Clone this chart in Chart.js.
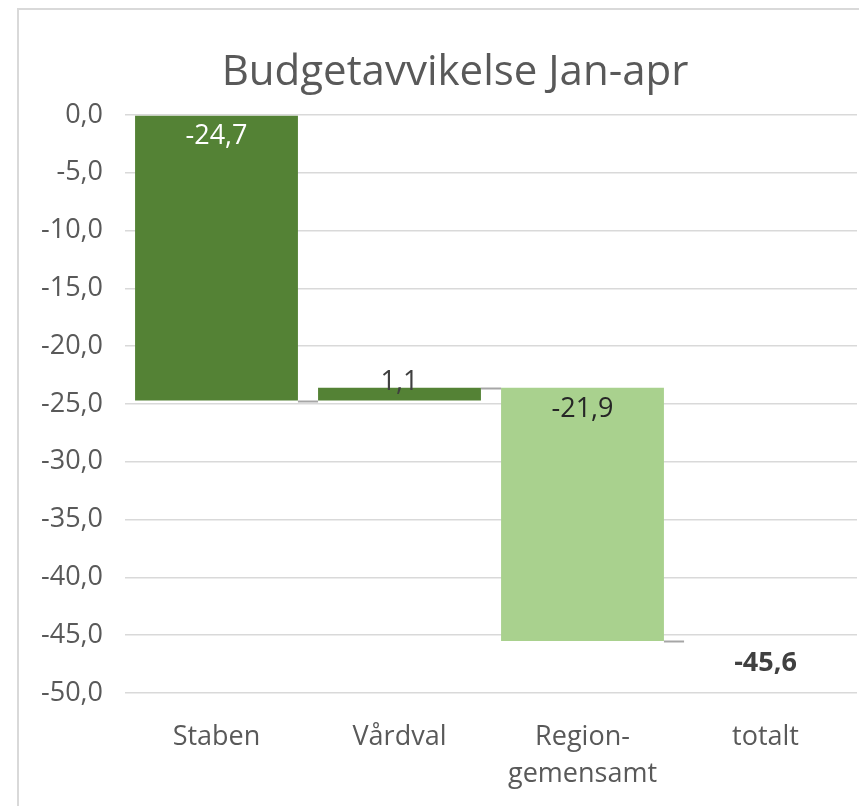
<!DOCTYPE html>
<html>
<head>
<meta charset="utf-8">
<script src="https://cdn.jsdelivr.net/npm/chart.js@4"></script>
<style>
  html, body { margin: 0; padding: 0; background: #fff; overflow: hidden; }
  #frame { position: absolute; left: 17px; top: 8px; width: 900px; height: 900px;
           border-left: 2px solid #d9d9d9; border-top: 2px solid #d9d9d9; }
  #wrap { position: absolute; left: 0; top: 0; width: 859px; height: 806px; }
</style>
</head>
<body>
<div id="frame"></div>
<div id="wrap"><canvas id="budgetChart"></canvas></div>
<script>
// DATA
const categories = ["Staben", "Vårdval", ["Region-", "gemensamt"], "totalt"];
const changes = [-24.7, 1.1, -21.9];
const total = -45.6;
const yTicks = [0, -5, -10, -15, -20, -25, -30, -35, -40, -45, -50];

const DARK = "#548235";
const LIGHT = "#a9d18e";
const FONT = "'Open Sans', sans-serif";

const fmt = v => v.toFixed(1).replace(".", ",");

// build waterfall ranges from the changes
let running = 0;
const ranges = changes.map(c => {
    const start = running;
    running += c;
    return [start, running];
});
ranges.push(null); // totalt has no bar, only a label

const barColors = [DARK, DARK, LIGHT, "rgba(0,0,0,0)"];
const labelColors = ["#ffffff", "#404040", "#262626"];

// TITLE
const titlePlugin = {
    id: "titleText",
    afterDraw(chart) {
        const c = chart.ctx;
        c.save();
        c.font = "42px " + FONT;
        c.fillStyle = "#595959";
        c.textAlign = "center";
        c.textBaseline = "alphabetic";
        c.fillText("Budgetavvikelse Jan-apr", 455, 85);
        c.restore();
    }
};

// CONNECTORS + VALUE LABELS
const waterfallPlugin = {
    id: "waterfall",
    afterDatasetsDraw(chart) {
        const c = chart.ctx;
        const y = chart.scales.y;
        const bars = chart.getDatasetMeta(0).data;
        const gap = (bars[1].x - bars[1].width / 2) - (bars[0].x + bars[0].width / 2);

        c.save();
        c.strokeStyle = "#a6a6a6";
        c.lineWidth = 2;
        for (let i = 0; i < changes.length; i++) {
            const py = Math.round(y.getPixelForValue(ranges[i][1])) + 0.5;
            const x0 = bars[i].x + bars[i].width / 2;
            c.beginPath();
            c.moveTo(x0, py);
            c.lineTo(x0 + gap, py);
            c.stroke();
        }

        c.textAlign = "center";
        c.textBaseline = "middle";
        c.font = "27px " + FONT;
        for (let i = 0; i < changes.length; i++) {
            const end = y.getPixelForValue(ranges[i][1]);
            const top = y.getPixelForValue(Math.max(ranges[i][0], ranges[i][1]));
            const py = changes[i] < 0 ? top + 21 : end - 6;
            c.fillStyle = labelColors[i];
            c.fillText(fmt(changes[i]), bars[i].x, py);
        }

        c.font = "bold 27px " + FONT;
        c.fillStyle = "#404040";
        c.fillText(fmt(total), bars[3].x, y.getPixelForValue(total) + 21);
        c.restore();
    }
};

const ctx = document.getElementById("budgetChart");

new Chart(ctx, {
    type: "bar",
    data: {
        labels: categories,
        datasets: [{
            data: ranges,
            backgroundColor: barColors,
            borderWidth: 0,
            barPercentage: 0.89,
            categoryPercentage: 1
        }]
    },
    options: {
        responsive: true,
        maintainAspectRatio: false,
        animation: false,
        layout: { padding: { top: 115, right: 2, bottom: 12, left: 0 } },
        plugins: {
            legend: { display: false },
            tooltip: { enabled: false },
            title: { display: false }
        },
        scales: {
            x: {
                afterFit(scale) { scale.height = 101; },
                grid: { display: false, drawTicks: false },
                border: { display: false },
                ticks: {
                    color: "#595959",
                    padding: 25,
                    maxRotation: 0,
                    font: { family: FONT, size: 27, lineHeight: 1.4 }
                }
            },
            y: {
                min: -50,
                max: 0,
                afterFit(scale) { scale.width = 125; },
                afterBuildTicks(scale) {
                    scale.ticks = yTicks.map(v => ({ value: v }));
                },
                grid: { color: "#d9d9d9", lineWidth: 1.5, drawTicks: false },
                border: { display: false },
                ticks: {
                    color: "#595959",
                    padding: 22,
                    font: { family: FONT, size: 27 },
                    callback: v => fmt(v)
                }
            }
        }
    },
    plugins: [titlePlugin, waterfallPlugin]
});
</script>
</body>
</html>
